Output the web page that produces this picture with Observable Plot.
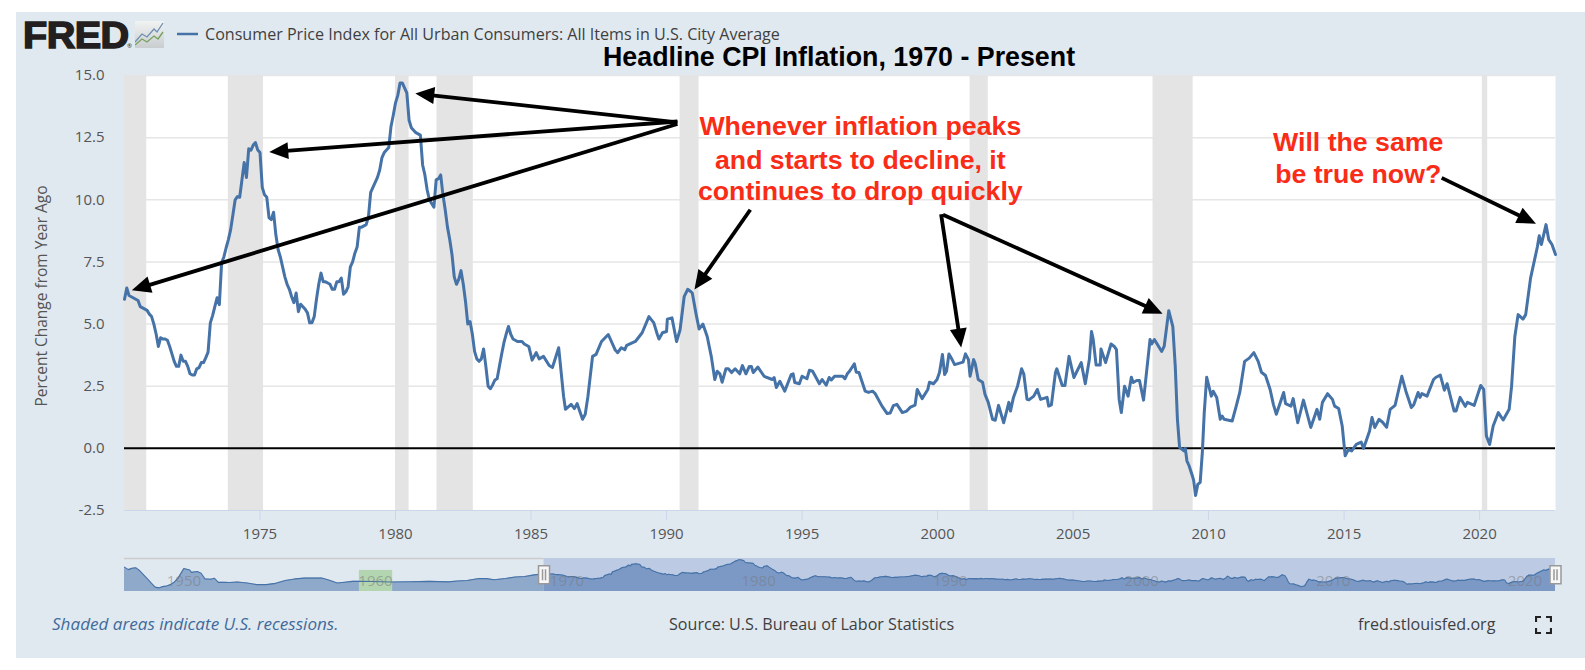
<!DOCTYPE html>
<html><head><meta charset="utf-8">
<script src="https://cdn.jsdelivr.net/npm/d3@7"></script>
<script src="https://cdn.jsdelivr.net/npm/@observablehq/plot@0.6"></script>
<style>
html,body{margin:0;padding:0;background:#fff;width:1585px;height:670px;overflow:hidden}
#panel{position:absolute;left:16px;top:12px;width:1569px;height:646px;background:#e1e9f0}
.abs{position:absolute;font-family:"Open Sans",sans-serif;white-space:nowrap}
#charts svg{position:absolute;left:0;background:transparent}
</style></head><body>
<div id="panel"></div>
<div id="charts"></div>
<div class="abs" id="logo" style="left:23px;top:15px;font:bold 37px 'Liberation Sans';color:#231f20;letter-spacing:-0.5px;-webkit-text-stroke:1.5px #231f20;transform:scaleX(1.07);transform-origin:left">FRED</div>
<div class="abs" style="left:127px;top:42px;font-size:6px;color:#231f20">®</div>
<svg class="abs" style="left:135px;top:21px" width="30" height="28"><defs><linearGradient id="g" x1="0" y1="0" x2="0" y2="1"><stop offset="0" stop-color="#f2f3f3"/><stop offset="1" stop-color="#c9cdcf"/></linearGradient></defs><rect width="29" height="27" fill="url(#g)"/><polyline points="0,21 7,13 12,16 19,8 22,11 28,2" fill="none" stroke="#6e8fb4" stroke-width="1.3"/><polyline points="0,24 7,18 12,21 19,15 23,18 28,11" fill="none" stroke="#76a15f" stroke-width="1.3"/></svg>
<svg class="abs" style="left:177px;top:32px" width="22" height="4"><line x1="0" x2="21" y1="2" y2="2" stroke="#4572a7" stroke-width="2.5"/></svg>
<div class="abs" id="legend" style="left:205px;top:23px;font-size:16.1px;color:#3f3f3f">Consumer Price Index for All Urban Consumers: All Items in U.S. City Average</div>
<div class="abs" id="title" style="left:603px;top:42px;font:bold 26.8px 'Liberation Sans';color:#000">Headline CPI Inflation, 1970 - Present</div>
<div class="abs" style="left:52px;top:612px;font-size:17.1px;font-style:italic;color:#3f6b9c">Shaded areas indicate U.S. recessions.</div>
<div class="abs" style="left:669px;top:613px;font-size:16.1px;color:#3f3f3f">Source: U.S. Bureau of Labor Statistics</div>
<div class="abs" style="left:1358px;top:613px;font-size:16.1px;color:#3f3f3f">fred.stlouisfed.org</div>
<svg class="abs" style="left:1535px;top:616px" width="17" height="18"><path d="M1 6V1H6M11 1H16V6M16 12V17H11M6 17H1V12" fill="none" stroke="#222" stroke-width="2.2"/></svg>
<script>
// Year-over-year CPI, monthly 1970-1984
const cpi1970s = [
 6.0,6.45,6.15,6.1,6.05,6.0,5.95,5.7,5.65,5.6,5.55,5.4,
 5.3,5.0,4.6,4.1,4.45,4.4,4.4,4.35,4.1,3.8,3.5,3.3,
 3.3,3.75,3.5,3.5,3.3,3.0,2.95,2.95,3.2,3.25,3.45,3.45,
 3.65,3.87,5.05,5.34,5.7,6.06,5.78,7.47,7.7,8.07,8.4,8.8,
 9.4,10.0,10.13,10.1,10.8,11.5,10.9,12.05,12.0,12.2,12.3,12.0,
 11.9,10.5,10.2,10.1,9.27,9.2,9.5,8.6,8.0,7.7,7.3,6.9,
 6.6,6.4,6.1,5.86,6.25,5.5,5.8,5.7,5.6,5.45,5.05,5.05,
 5.3,6.0,6.6,7.05,6.7,6.7,6.65,6.6,6.4,6.4,6.7,6.7,
 6.85,6.2,6.3,6.5,7.3,7.5,7.85,8.1,8.9,8.9,8.95,9.0,
 9.3,10.3,10.5,10.7,10.9,11.2,11.7,11.9,12.0,12.1,12.95,13.4];
const cpi1980to84 = [
 13.9,14.2,14.7,14.7,14.5,14.3,13.2,12.9,12.8,12.7,12.65,12.6,
 11.4,11.0,10.4,10.0,9.85,9.7,10.8,10.85,11.0,10.2,9.6,8.9,
 8.4,7.8,6.9,6.6,6.8,7.15,6.6,5.9,5.0,5.1,4.6,3.9,
 3.6,3.5,3.6,4.0,3.3,2.5,2.4,2.55,2.75,2.8,3.3,3.8,
 4.25,4.6,4.9,4.6,4.4,4.35,4.3,4.3,4.3,4.2,4.15,4.1];
// Year, value pairs
const readings1985s = [[1985.04,3.55],[1985.19,3.85],[1985.3,3.6],[1985.46,3.7],[1985.67,3.33],[1985.79,3.25],[1986.02,4.05],[1986.2,2.1],[1986.27,1.57],[1986.48,1.77],[1986.6,1.6],[1986.7,1.8],[1986.9,1.17],[1987.0,1.37],[1987.1,2.1],[1987.27,3.7],[1987.4,3.78],[1987.6,4.3],[1987.85,4.58],[1988.1,3.97],[1988.2,3.85],[1988.33,4.05],[1988.46,3.97],[1988.53,4.14],[1988.85,4.3],[1989.1,4.65],[1989.35,5.3],[1989.53,5.05],[1989.66,4.58],[1989.72,4.4],[1989.85,4.65],[1990.0,4.7],[1990.03,5.2],[1990.2,5.25],[1990.37,4.3],[1990.5,4.77],[1990.65,6.1],[1990.78,6.4],[1990.9,6.3],[1990.95,6.25],[1991.09,5.4],[1991.2,4.8],[1991.34,5.0],[1991.5,4.5],[1991.65,3.7],[1991.78,2.77],[1991.87,3.1],[1991.97,3.0],[1992.05,2.66],[1992.19,3.2],[1992.28,3.2],[1992.4,3.05],[1992.53,3.2],[1992.7,3.0],[1992.8,3.33],[1992.93,3.0],[1993.05,3.29],[1993.13,3.29],[1993.2,3.05],[1993.37,3.27],[1993.6,2.9],[1993.9,2.77],[1993.97,2.85],[1994.05,2.45],[1994.18,2.7],[1994.36,2.3],[1994.6,2.97],[1994.67,3.0],[1994.73,2.65],[1994.9,2.6],[1995.0,2.9],[1995.18,2.8],[1995.27,3.14],[1995.39,3.1],[1995.64,2.6],[1995.74,2.77],[1995.89,2.54],[1996.0,2.85],[1996.08,2.75],[1996.2,2.9],[1996.5,2.9],[1996.58,2.8],[1996.67,3.0],[1996.75,3.1],[1996.93,3.4],[1997.0,3.06],[1997.1,3.05],[1997.33,2.3],[1997.45,2.25],[1997.6,2.3],[1997.7,2.2],[1997.95,1.7],[1998.14,1.4],[1998.25,1.42],[1998.37,1.72],[1998.5,1.77],[1998.7,1.44],[1998.86,1.5],[1999.0,1.66],[1999.17,1.74],[1999.25,2.37],[1999.43,2.0],[1999.64,2.37],[1999.7,2.66],[1999.85,2.6]];
const readings2000s = [[1999.98,2.77],[2000.07,3.05],[2000.18,3.78],[2000.26,2.97],[2000.33,3.1],[2000.42,3.8],[2000.5,3.65],[2000.63,3.37],[2000.94,3.47],[2001.03,3.8],[2001.14,3.57],[2001.2,2.9],[2001.33,3.57],[2001.39,3.4],[2001.5,2.77],[2001.66,2.66],[2001.75,2.17],[2001.87,1.85],[2002.03,1.17],[2002.13,1.13],[2002.25,1.73],[2002.44,1.03],[2002.63,1.85],[2002.69,1.5],[2002.8,2.05],[2002.95,2.5],[2003.1,3.2],[2003.18,3.0],[2003.3,1.97],[2003.37,1.95],[2003.55,2.1],[2003.68,2.37],[2003.8,1.97],[2004.04,2.05],[2004.1,1.7],[2004.2,1.75],[2004.35,3.05],[2004.4,3.2],[2004.6,2.53],[2004.7,2.53],[2004.85,3.7],[2005.03,2.85],[2005.3,3.45],[2005.45,2.6],[2005.6,3.57],[2005.68,4.7],[2005.74,4.4],[2005.85,3.35],[2006.0,3.35],[2006.03,4.0],[2006.2,3.45],[2006.4,4.2],[2006.52,4.1],[2006.6,3.97],[2006.7,1.97],[2006.78,1.44],[2006.9,2.5],[2007.03,2.1],[2007.15,2.86],[2007.22,2.65],[2007.35,2.73],[2007.45,2.73],[2007.6,1.94],[2007.84,4.38],[2007.9,4.2],[2008.0,4.38],[2008.27,3.9],[2008.36,4.1],[2008.53,5.54],[2008.68,4.9],[2008.77,3.3],[2008.85,1.17],[2008.93,0.04],[2009.09,-0.1],[2009.14,0.0],[2009.2,-0.5],[2009.28,-0.7],[2009.4,-1.1],[2009.45,-1.3],[2009.52,-1.9],[2009.6,-1.45],[2009.69,-1.37],[2009.77,-0.15],[2009.84,1.44],[2009.93,2.86]];
const readings2010s = [[2010.1,2.1],[2010.17,2.3],[2010.3,2.05],[2010.43,1.17],[2010.5,1.3],[2010.57,1.17],[2010.87,1.1],[2011.02,1.7],[2011.15,2.25],[2011.33,3.5],[2011.5,3.63],[2011.67,3.85],[2011.83,3.5],[2011.95,3.06],[2012.1,2.93],[2012.27,2.37],[2012.39,1.77],[2012.5,1.37],[2012.77,2.25],[2012.84,1.8],[2013.04,1.7],[2013.12,2.0],[2013.29,1.03],[2013.5,1.94],[2013.77,0.84],[2014.0,1.57],[2014.1,1.17],[2014.2,1.85],[2014.39,2.2],[2014.57,1.97],[2014.65,1.7],[2014.8,1.6],[2014.93,0.9],[2015.04,-0.3],[2015.16,-0.04],[2015.28,-0.1],[2015.45,0.16],[2015.63,0.25],[2015.72,0.0],[2015.94,0.7],[2016.03,1.24],[2016.13,0.84],[2016.29,1.17],[2016.42,1.05],[2016.57,0.85],[2016.7,1.57],[2016.88,1.73],[2017.13,2.9],[2017.28,2.3],[2017.48,1.64],[2017.57,1.75],[2017.73,2.25],[2017.8,2.05],[2017.87,2.2],[2018.06,2.1],[2018.3,2.77],[2018.38,2.85],[2018.55,2.95],[2018.7,2.34],[2018.8,2.6],[2019.06,1.5],[2019.13,1.5],[2019.28,2.05],[2019.47,1.69],[2019.55,1.85],[2019.8,1.73]];
const readings2020s = [[2020.04,2.53],[2020.15,2.37],[2020.25,0.5],[2020.37,0.16],[2020.5,0.9],[2020.69,1.44],[2020.87,1.14],[2021.09,1.57],[2021.18,2.5],[2021.3,4.5],[2021.42,5.38],[2021.6,5.2],[2021.7,5.38],[2021.88,6.85],[2022.13,8.1],[2022.2,8.55],[2022.28,8.2],[2022.45,9.0],[2022.55,8.4],[2022.67,8.2],[2022.8,7.8]];
// Overview strip, the part before the main chart
const readings1948to69 = [[1948.1,10.2],[1948.3,8.7],[1948.5,9.5],[1948.7,9.8],[1948.9,8],[1949.1,5.5],[1949.3,3],[1949.5,0.5],[1949.7,-2],[1949.9,-2.5],[1950.1,-1.7],[1950.3,-1.3],[1950.5,-0.5],[1950.7,1],[1950.9,3.5],[1951.2,9.4],[1951.5,8.5],[1951.6,7],[1951.9,7.5],[1952.1,6.5],[1952.3,3],[1952.6,2.8],[1952.8,3.4],[1953,0.9],[1953.3,1],[1953.6,0.8],[1954,1.1],[1954.5,0.5],[1955,-0.5],[1955.5,-0.5],[1956,0.3],[1956.5,2],[1957,3],[1957.5,3.5],[1958,3.5],[1958.4,3.6],[1958.8,2.2],[1959.2,0.5],[1959.6,1],[1960,1.5],[1960.5,1.6],[1961,1.4],[1962,1.1],[1963,1.3],[1964,1.5],[1965,1.2],[1965.5,1.7],[1966,2],[1966.6,3.3],[1967,3.2],[1967.4,2.5],[1968,3.3],[1968.5,4.2],[1969,4.5],[1969.5,5.5],[1969.9,6]];

const recessionStarts = [1969.95,1973.83,1980.0,1981.53,1990.5,2001.2,2007.95,2020.1];
const recessionEnds   = [1970.82,1975.13,1980.5,1982.87,1991.2,2001.87,2009.43,2020.3];
const yTicks = [-2.5,0,2.5,5,7.5,10,12.5,15];
const xTicks = [1975,1980,1985,1990,1995,2000,2005,2010,2015,2020];
const overviewTicks = [1950,1960,1970,1980,1990,2000,2010,2020];

const arrowFromYear = [1990.40,1990.40,1990.40,1993.09,2000.13,2000.20,2018.60];
const arrowFromCpi  = [13.11,13.15,13.05,9.6,9.42,9.4,10.88];
const arrowToYear   = [1980.73,1975.34,1970.27,1991.03,2000.87,2008.30,2022.08];
const arrowToCpi    = [14.28,11.92,6.36,6.39,4.06,5.42,9.04];

const noteLines = ["Whenever inflation peaks","and starts to decline, it","continues to drop quickly","Will the same","be true now?"];
const noteYear  = [1997.15,1997.15,1997.15,2015.52,2015.52];
const noteCpi   = [12.97,11.6,10.32,12.29,11.0];

const series = [
  ...cpi1970s.map((v,i)=>({t:1970+i/12,v})),
  ...cpi1980to84.map((v,i)=>({t:1980+i/12,v})),
  ...[...readings1985s,...readings2000s,...readings2010s,...readings2020s].map(([t,v])=>({t,v}))
];
const older = readings1948to69.map(([t,v])=>({t,v}));
const recessions = recessionStarts.map((a,i)=>({a,b:recessionEnds[i]}));

const W=1585, H=670, mL=124, mR=30, mT=75, mB=160;
const xDom=[1970,2022.8], yDom=[-2.5,15];
const pxYear=(W-mL-mR)/(xDom[1]-xDom[0]), pxCpi=(H-mT-mB)/(yDom[1]-yDom[0]);
const headLen=19, headHalf=8.5;
const arrowhead={draw(c){c.moveTo(0,0);c.lineTo(-headHalf,headLen);c.lineTo(headHalf,headLen);c.closePath();}};
const arrows=arrowFromYear.map((x1,i)=>{
  const y1=arrowFromCpi[i],x2=arrowToYear[i],y2=arrowToCpi[i];
  const dx=(x2-x1)*pxYear, dy=-(y2-y1)*pxCpi, len=Math.hypot(dx,dy), f=(len-headLen+2)/len;
  return {x1,y1,x2,y2,xs:x1+(x2-x1)*f,ys:y1+(y2-y1)*f,angle:Math.atan2(dx,-dy)*180/Math.PI};
});
const notes=noteLines.map((s,i)=>({s,t:noteYear[i],v:noteCpi[i]}));
const font='"Open Sans",sans-serif';

const main=Plot.plot({
  width:W,height:H,marginLeft:mL,marginRight:mR,marginTop:mT,marginBottom:mB,
  style:{background:"transparent",fontFamily:font,overflow:"visible"},
  x:{domain:xDom,label:null},
  y:{domain:yDom,label:null},
  marks:[
    Plot.frame({fill:"#fff",stroke:null}),
    Plot.ruleY(yTicks.filter(d=>d!==0&&d!==-2.5),{stroke:"#e6e6e6",strokeWidth:1.5}),
    Plot.rect(recessions,{x1:d=>Math.max(d.a,xDom[0]),x2:"b",y1:yDom[0],y2:yDom[1],fill:"#e4e4e4"}),
    Plot.ruleY([-2.5],{stroke:"#ccd6eb",strokeWidth:1}),
    Plot.ruleY([0],{stroke:"#000",strokeWidth:2}),
    Plot.axisY({ticks:yTicks,tickFormat:d=>d.toFixed(1),tickSize:0,tickPadding:20,fontSize:15,color:"#555",label:null}),
    Plot.axisX({ticks:xTicks,tickFormat:"d",tickSize:10,tickPadding:8,fontSize:15,stroke:"#ccd6eb",fill:"#555",label:null}),
    Plot.text(["Percent Change from Year Ago"],{frameAnchor:"left",textAnchor:"middle",rotate:-90,dx:-82,dy:3,fontSize:15.5,fill:"#555"}),
    Plot.line(series,{x:"t",y:"v",stroke:"#4572a7",strokeWidth:3,strokeLinejoin:"round"}),
    Plot.link(arrows,{x1:"x1",y1:"y1",x2:"xs",y2:"ys",stroke:"#000",strokeWidth:3.8}),
    Plot.dot(arrows,{x:"x2",y:"y2",rotate:"angle",symbol:arrowhead,fill:"#000",stroke:"none",r:5}),
    Plot.text(notes,{x:"t",y:"v",text:"s",fill:"#f92c17",fontSize:26.7,fontWeight:"bold",fontFamily:"Liberation Sans"})
  ]
});
main.style.top="0px";
document.getElementById("charts").appendChild(main);

const ovX=[1948.1,2022.8], ovY=[-4.7,15.5];
const handle={draw(c){c.rect(-5.5,-9,11,18);}};
const grip={draw(c){c.moveTo(-1.5,-5.5);c.lineTo(-1.5,5.5);c.moveTo(1.5,-5.5);c.lineTo(1.5,5.5);}};
const all=[...older,...series];
const overview=Plot.plot({
  width:W,height:50,marginLeft:mL,marginRight:mR,marginTop:8,marginBottom:9,
  style:{background:"transparent",fontFamily:font,overflow:"visible"},
  x:{domain:ovX,axis:null},y:{domain:ovY,axis:null},
  marks:[
    Plot.rect([0],{x1:1970,x2:ovX[1],y1:ovY[0],y2:ovY[1],fill:"#bccbe3"}),
    Plot.ruleY([ovY[1]],{x1:ovX[0],x2:1970,stroke:"#ccc",strokeWidth:1.5}),
    Plot.area(older.concat(series.slice(0,1)),{x1:"t",y1:ovY[0],y2:"v",fill:"#8fa9cb"}),
    Plot.area(series,{x1:"t",y1:ovY[0],y2:"v",fill:"#7c99c6"}),
    Plot.rect([0],{x1:1960.36,x2:1962.1,y1:ovY[0],y2:8.2,fill:"#b3d5b0"}),
    Plot.line(all,{x:"t",y:"v",stroke:"#4572a7",strokeWidth:1.1}),
    Plot.text(overviewTicks,{x:d=>d,y:1.6,text:d=>String(d),dx:23,fontSize:15,fill:"#777",fillOpacity:0.5}),
    Plot.dot([1970,ovX[1]],{x:d=>d,y:5.5,symbol:handle,fill:"#f7f7f7",stroke:"#999",r:4}),
    Plot.dot([1970,ovX[1]],{x:d=>d,y:5.5,symbol:grip,stroke:"#999",fill:"none",r:4})
  ]
});
overview.style.top="550px";
document.getElementById("charts").appendChild(overview);
</script>
</body></html>
